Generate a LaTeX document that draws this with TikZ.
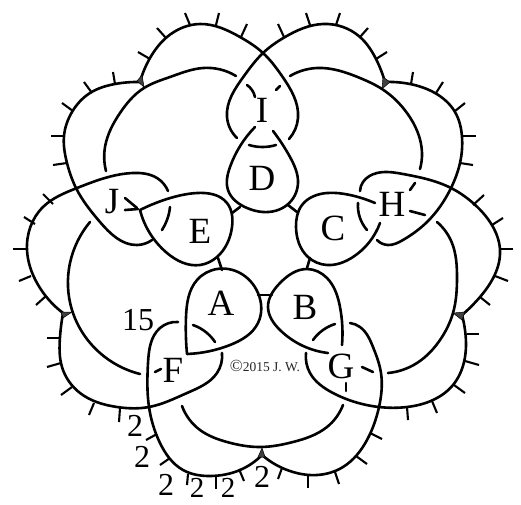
\documentclass[tikz,border=0pt]{standalone}
\usepackage{fontspec}
\setmainfont{Liberation Serif}
\usetikzlibrary{hobby}
\tikzset{
    strand/.style={line width=2.6pt, line cap=round, line join=round},
    curvy/.style={strand, use Hobby shortcut},
    spike/.style={line width=2.1pt},
    blob/.style={fill=black!75, draw=black, line width=.5pt},
    bigletter/.style={inner sep=0pt, font=\fontsize{37}{37}\selectfont},
    crossnum/.style={inner sep=0pt, font=\fontsize{32}{32}\selectfont},
    lownum/.style={inner sep=0pt, font=\fontsize{29}{29}\selectfont},
    smallnote/.style={inner sep=0pt, font=\fontsize{13.5}{15}\selectfont, text=black!85}
}
\begin{document}
\begin{tikzpicture}[x=1pt, y=-1pt]
    \useasboundingbox (0,0) rectangle (521,504);
    % outer lobes
    \draw[curvy] (140,82) .. (150,58) .. (167,37) .. (200,24) .. (240,37) .. (263,53) .. (282,76) .. (298,118) .. (289,139);
    \draw[curvy] (385,82) .. (376,59) .. (360,37) .. (323,24) .. (285,37) .. (263,53) .. (244,76) .. (227,117) .. (237,138);
    \draw[curvy] (140,82) .. (115,84) .. (90,93) .. (72,112) .. (64,136) .. (67,163) .. (76,188) .. (100,222) .. (137,245) .. (152,240);
    \draw[curvy] (385,82) .. (410,84) .. (435,93) .. (455,112) .. (462,137) .. (460,163) .. (451,188) .. (427,222) .. (403,240) .. (388,245) .. (377,240);
    \draw[curvy] (63,313) .. (37,283) .. (27,250) .. (43,207) .. (77,188) .. (133,173) .. (157,178) .. (168,191);
    \draw[curvy] (462,315) .. (480,297) .. (500,250) .. (490,222) .. (473,203) .. (451,188) .. (403,174) .. (377,173) .. (363,182) .. (360,191);
    \draw[curvy] (63,313) .. (60,337) .. (62,367) .. (80,393) .. (117,407) .. (149,407) .. (187,393) .. (217,373) .. (222,353);
    \draw[curvy] (462,315) .. (465,330) .. (465,357) .. (453,385) .. (433,400) .. (407,407) .. (379,407) .. (333,393) .. (310,373) .. (306,353);
    \draw[curvy] (178,322) .. (160,328) .. (148,363) .. (149,407) .. (160,443) .. (183,470) .. (210,476) .. (240,470) .. (262,455);
    \draw[curvy] (262,455) .. (293,472) .. (317,475) .. (343,467) .. (367,440) .. (379,407) .. (381,373) .. (373,347) .. (360,327) .. (350,323);
    % inner arcs
    \draw[curvy] (236,76) .. (203,68) .. (170,77) .. (144,88) .. (120,113) .. (105,147) .. (106,171);
    \draw[curvy] (290,76) .. (317,68) .. (360,78) .. (382,89) .. (407,113) .. (422,153) .. (420,169);
    \draw[curvy] (90,222) .. (70,263) .. (72,310) .. (100,353) .. (140,374);
    \draw[curvy] (437,222) .. (452,243) .. (457,277) .. (453,313) .. (440,340) .. (417,363) .. (388,373);
    \draw[curvy] (182,406) .. (200,430) .. (227,442) .. (260,447) .. (293,442) .. (327,427) .. (343,405);
    % petals
    \draw[curvy] (255,127) .. (230,167) .. (228,190) .. (247,208) .. (263,212) .. (287,205) .. (298,183) .. (290,157) .. (273,131);
    \draw[curvy] (140,210) .. (167,199) .. (197,193) .. (227,203) .. (232,227) .. (217,257) .. (200,265) .. (167,253) .. (140,210);
    \draw[curvy] (187,354) .. (186,317) .. (197,280) .. (217,269) .. (240,273) .. (258,293) .. (258,323) .. (230,345) .. (187,354);
    \draw[curvy] (328,353) .. (280,330) .. (268,307) .. (280,283) .. (307,269) .. (327,278) .. (340,307) .. (342,345);
    \draw[curvy] (375,203) .. (350,195) .. (327,193) .. (302,205) .. (296,227) .. (308,257) .. (327,265) .. (353,257) .. (380,223);
    % links and small pieces
    \foreach \xa/\ya/\xb/\yb in {232/213/240/207, 218/258/222/270, 258/295/272/295, 307/268/310/258, 288/205/297/212,
        276/90/280/86, 362/367/373/372, 346/383/346/391, 155/372/161/369, 125/198/137/208, 125/210/138/209,
        410/211/425/215, 410/190/415/183}
        \draw[strand] (\xa,\ya) -- (\xb,\yb);
    \draw[curvy] (249,145) .. (263,147) .. (276,145);
    \draw[curvy] (247,85) .. (252,90) .. (255,97);
    \draw[curvy] (193,325) .. (207,333) .. (215,342);
    \draw[curvy] (313,340) .. (323,330) .. (335,324);
    \draw[curvy] (358,203) .. (360,218) .. (367,230);
    \draw[curvy] (170,207) .. (167,220) .. (162,230);
    % spikes round the outside
    \foreach \xa/\ya/\xb/\yb in {190/25/185/13, 216/25/219/13, 241/37/247/24, 166/38/157/28, 150/59/138/52,
        115/84/113/72, 92/93/84/82, 73/111/62/103, 64/136/51/136, 67/163/53/165,
        310/25/306/13, 336/25/340/13, 284/37/278/24, 360/37/368/28, 376/59/387/52,
        411/84/413/72, 436/93/443/82, 455/111/465/103, 462/136/476/136, 460/163/473/165,
        53/204/43/194, 35/224/24/217, 27/249/13/249, 31/276/19/281, 46/296/36/305,
        60/338/47/338, 61/363/47/367, 72/387/61/395, 94/403/89/415, 120/408/119/422,
        157/434/146/440, 170/458/160/465, 188/474/187/485, 216/476/216/489, 239/469/244/481,
        282/468/278/479, 308/474/308/488, 335/472/339/484, 356/456/367/464, 370/433/382/439,
        407/407/408/420, 432/401/437/413, 454/385/465/393, 465/361/479/365, 467/334/479/334,
        480/297/490/305, 495/276/508/281, 500/249/513/249, 492/225/503/218, 473/205/484/195}
        \draw[spike] (\xa,\ya) -- (\xb,\yb);
    % dark corners
    \fill[blob] (137,81) -- (142,75) -- (144,87) -- cycle;
    \fill[blob] (382,89) -- (383,77) -- (390,82) -- cycle;
    \fill[blob] (61,312) -- (72,312) -- (63,318) -- cycle;
    \fill[blob] (453,313) -- (465,312) -- (462,320) -- cycle;
    \fill[blob] (258,457) -- (262,448) -- (265,457) -- cycle;
    % labels
    \node[bigletter] (nI) at (262,110) {I};
    \node[bigletter] (nD) at (262,178) {D};
    \node[bigletter] (nE) at (200,231) {E};
    \node[bigletter] (nC) at (333,228) {C};
    \node[bigletter] (nH) at (392,204) {H};
    \node[bigletter] (nJ) at (112,202) {J};
    \node[bigletter] (nA) at (221,303) {A};
    \node[bigletter] (nB) at (305,307) {B};
    \node[bigletter] (nF) at (173,370) {F};
    \node[bigletter] (nG) at (341,366) {G};
    \node[crossnum] (n15) at (138,320) {15};
    \node[crossnum] (two1) at (135,426) {2};
    \node[crossnum] (two2) at (142,457) {2};
    \node[crossnum] (two3) at (166,485) {2};
    \node[lownum] (two4) at (197,487.5) {2};
    \node[lownum] (two5) at (228,487.5) {2};
    \node[crossnum] (two6) at (262,477) {2};
    \node[smallnote] (sign) at (265,366) {{\fontsize{17}{17}\selectfont©}2015 J. W.};
\end{tikzpicture}
\end{document}
